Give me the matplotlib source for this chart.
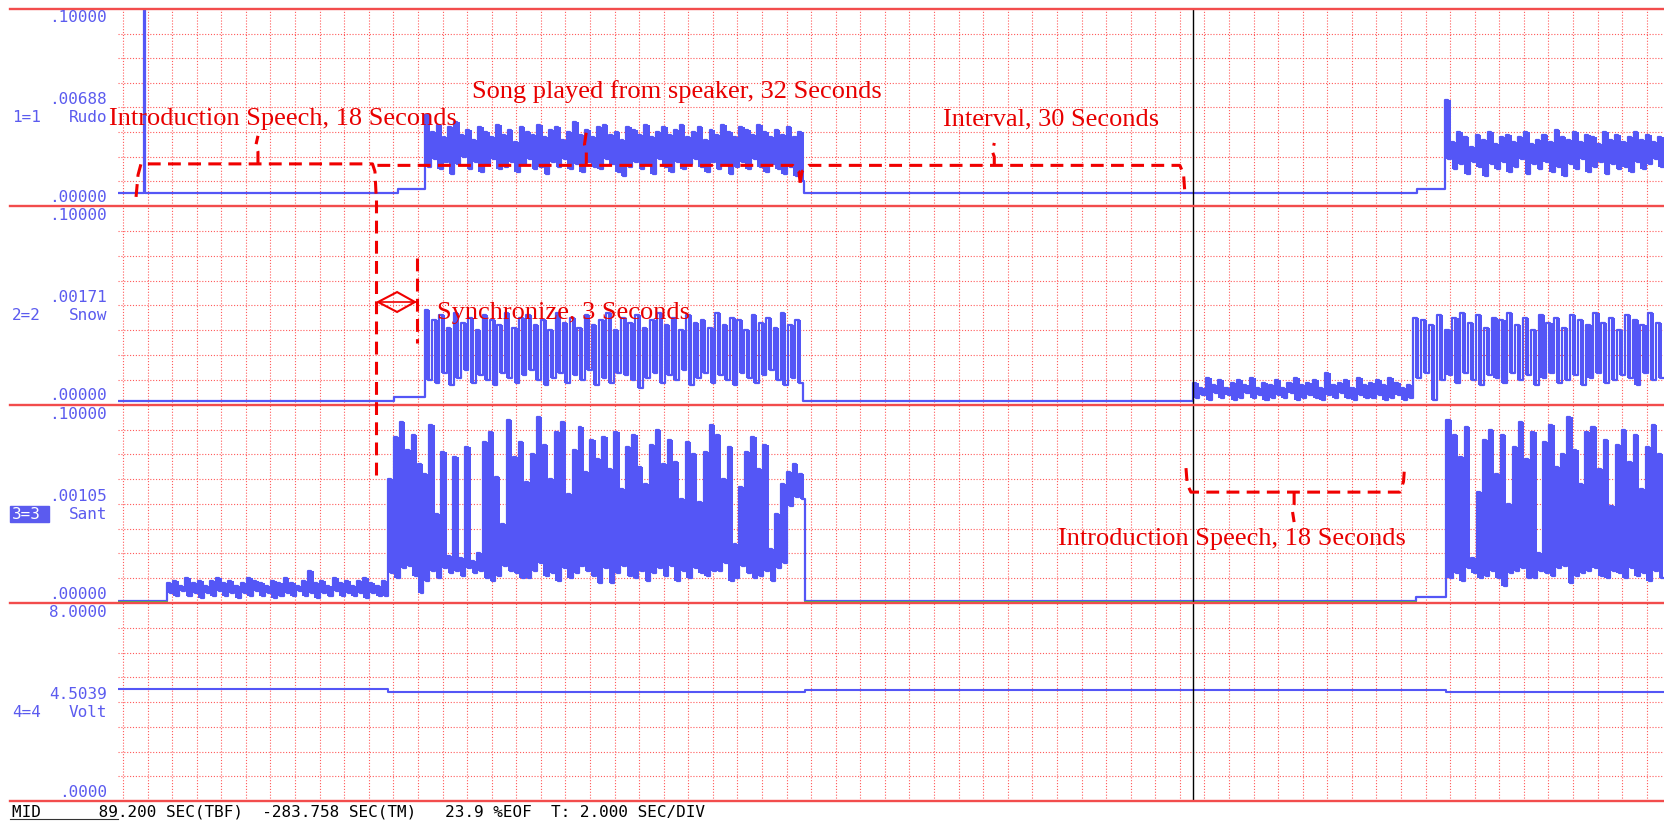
import numpy as np
import matplotlib.pyplot as plt
from matplotlib.lines import Line2D
from matplotlib.patches import Rectangle, Polygon
from matplotlib import transforms

W, H = 1664, 821

# time axis in seconds (2 s per division), channel values in divisions (ch4 in volts)
t_left, t_right = -0.41, 125.4
cursor_t = 87.07

# channel 1 - Rudo
ch1_base, ch1_step = 0.53, 0.70
ch1_spike_t, ch1_spike_y = 1.71, 8.0
ch1_edges = [22.36, 24.55, 55.45, 105.3, 107.6]
ch1_song_hi = [3.7, 3.0, 3.3, 2.8, 3.2, 3.4, 2.9, 3.1, 2.7, 3.2,
               3.0, 2.8, 3.3, 2.9, 3.1, 2.6, 3.2, 3.0, 2.9, 3.3,
               2.8, 3.1, 3.2, 2.7, 3.0, 3.4, 2.9, 3.1, 2.8, 3.2,
               3.3, 2.9, 3.0, 2.7, 3.2, 3.1, 2.9, 3.3, 2.8, 3.0,
               3.2, 2.9, 3.1, 3.3, 2.8, 3.0, 3.2, 2.7, 3.1, 2.9,
               3.3, 3.0, 2.8, 3.2, 3.1, 2.9, 3.3, 3.0, 2.8, 3.1,
               2.9, 3.2, 2.8, 3.0]
ch1_song_lo = [1.6, 1.9, 1.5, 1.8, 1.3, 1.7, 2.0, 1.5, 1.8, 1.4,
               1.7, 1.9, 1.5, 1.6, 1.8, 1.4, 1.7, 1.9, 1.5, 1.6,
               1.3, 1.8, 1.6, 1.9, 1.5, 1.7, 1.4, 1.8, 1.6, 1.5,
               1.9, 1.7, 1.4, 1.2, 1.6, 1.8, 1.5, 1.7, 1.3, 1.9,
               1.6, 1.4, 1.8, 1.5, 1.7, 1.9, 1.6, 1.4, 1.8, 1.5,
               1.7, 1.3, 1.6, 1.8, 1.5, 1.9, 1.6, 1.4, 1.7, 1.5,
               1.3, 1.6, 1.2, 1.0]
ch1_song2_hi = [4.3, 2.6, 3.0, 2.8, 2.4, 2.9, 2.7, 3.0, 2.5, 2.8,
                2.9, 2.6, 2.8, 3.0, 2.5, 2.7, 2.9, 2.6, 3.1, 2.8,
                2.7, 3.0, 2.6, 2.9, 2.8, 2.5, 3.0, 2.7, 2.9, 2.6,
                2.8, 3.0, 2.7, 2.9, 2.6, 2.8]
ch1_song2_lo = [1.9, 1.5, 1.7, 1.3, 1.8, 1.6, 1.2, 1.7, 1.5, 1.8,
                1.4, 1.6, 1.9, 1.3, 1.7, 1.5, 1.8, 1.4, 1.6, 1.2,
                1.7, 1.5, 1.9, 1.4, 1.6, 1.8, 1.3, 1.7, 1.5, 1.6,
                1.4, 1.8, 1.5, 1.7, 1.9, 1.6]

# channel 2 - Snow
ch2_base, ch2_step = 0.16, 0.32
ch2_edges = [22.03, 24.55, 55.3, 87.07, 105.0]
ch2_song_hi = [3.8, 3.4, 3.6, 3.1, 3.7, 3.3, 3.5, 3.0, 3.6, 3.4,
               3.2, 3.7, 3.1, 3.5, 3.6, 3.2, 3.4, 3.0, 3.7, 3.3,
               3.5, 3.1, 3.6, 3.2, 3.4, 3.7, 3.0, 3.5, 3.3, 3.6,
               3.1, 3.4, 3.7, 3.2, 3.5, 3.0, 3.6, 3.3, 3.4, 3.1,
               3.7, 3.2, 3.5, 3.4, 3.0, 3.6, 3.3, 3.5, 3.1, 3.7,
               3.2, 3.4]
ch2_song_lo = [1.0, 0.9, 1.3, 0.8, 1.1, 1.4, 0.9, 1.2, 1.0, 0.8,
               1.3, 1.1, 0.9, 1.2, 1.4, 1.0, 0.8, 1.1, 1.3, 0.9,
               1.2, 1.0, 1.4, 0.8, 1.1, 0.9, 1.3, 1.2, 1.0, 0.7,
               1.1, 1.3, 0.9, 1.2, 1.0, 1.4, 0.8, 1.1, 1.3, 0.9,
               1.2, 1.0, 0.8, 1.3, 1.1, 0.9, 1.2, 1.4, 1.0, 0.8,
               1.1, 0.9]
ch2_small_hi = [0.9, 0.7, 1.1, 0.8, 1.0, 0.7, 0.9, 1.0, 0.8, 1.1,
                0.7, 0.9, 0.8, 1.0, 0.7, 0.9, 1.1, 0.8, 0.9, 1.0,
                0.7, 1.3, 0.8, 0.9, 1.0, 0.7, 1.1, 0.8, 0.9, 1.0,
                0.8, 1.1, 0.9, 0.7, 0.8]
ch2_small_lo = [0.3, 0.4, 0.2, 0.5, 0.3, 0.4, 0.2, 0.3, 0.5, 0.3,
                0.4, 0.2, 0.3, 0.4, 0.3, 0.5, 0.2, 0.3, 0.4, 0.3,
                0.2, 0.4, 0.3, 0.5, 0.3, 0.2, 0.4, 0.3, 0.3, 0.4,
                0.2, 0.3, 0.4, 0.2, 0.3]
ch2_song2_hi = [3.5, 3.4, 3.2, 3.6, 3.0, 3.5, 3.7, 3.3, 3.6, 3.1,
                3.5, 3.4, 3.7, 3.2, 3.5, 3.0, 3.6, 3.3, 3.5, 3.1,
                3.6, 3.4, 3.2, 3.7, 3.3, 3.5, 3.0, 3.6, 3.4, 3.2,
                3.7, 3.3]
ch2_song2_lo = [1.1, 1.3, 0.2, 1.0, 1.2, 0.9, 1.3, 1.0, 0.8, 1.2,
                1.1, 0.9, 1.3, 1.0, 1.2, 0.8, 1.1, 1.3, 0.9, 1.0,
                1.2, 0.8, 1.1, 1.3, 0.9, 1.0, 1.2, 1.1, 0.8, 1.3,
                1.0, 1.1]

# channel 3 - Sant
ch3_base, ch3_step = 0.1, 0.25
ch3_edges = [3.58, 21.54, 55.5, 105.2, 107.7]
ch3_pre_hi = [0.8, 0.9, 0.7, 1.0, 0.8, 0.9, 0.7, 0.9, 1.0, 0.8,
              0.9, 0.7, 0.8, 1.0, 0.9, 0.8, 0.7, 0.9, 0.8, 1.0,
              0.8, 0.7, 0.9, 1.3, 0.8, 0.9, 0.7, 1.0, 0.8, 0.9,
              0.7, 0.9, 1.0, 0.8, 0.7, 0.9]
ch3_pre_lo = [0.4, 0.3, 0.5, 0.3, 0.4, 0.2, 0.4, 0.3, 0.5, 0.3,
              0.4, 0.2, 0.4, 0.3, 0.5, 0.3, 0.4, 0.2, 0.3, 0.4,
              0.3, 0.5, 0.3, 0.4, 0.2, 0.4, 0.3, 0.5, 0.3, 0.4,
              0.3, 0.4, 0.2, 0.4, 0.3, 0.3]
ch3_song_hi = [5.0, 6.7, 7.3, 6.2, 6.8, 5.6, 5.2, 7.2, 3.6, 6.1,
               1.9, 5.9, 1.8, 6.3, 1.7, 2.0, 6.5, 6.9, 5.1, 3.2,
               7.4, 5.9, 6.5, 4.9, 6.0, 7.5, 6.4, 5.0, 6.9, 7.3,
               4.4, 6.2, 7.1, 5.3, 6.6, 5.8, 6.7, 5.4, 6.9, 4.6,
               6.3, 6.8, 5.5, 4.8, 6.4, 7.0, 5.6, 6.6, 5.7, 4.2,
               6.5, 6.0, 4.1, 6.1, 7.2, 6.8, 5.0, 6.3, 2.4, 4.7,
               6.1, 6.7, 5.4, 6.4, 2.2, 3.6, 4.8, 5.3, 5.6, 5.2]
ch3_song_lo = [1.2, 1.0, 1.4, 1.5, 1.1, 0.4, 0.9, 1.3, 1.0, 1.4,
               1.2, 1.3, 1.1, 1.4, 1.2, 1.3, 1.0, 0.9, 1.1, 1.5,
               1.3, 1.2, 1.0, 1.0, 1.3, 1.6, 1.1, 1.2, 0.9, 1.4,
               1.0, 1.2, 1.5, 1.3, 1.1, 0.8, 1.4, 0.8, 1.2, 1.5,
               1.1, 1.0, 1.3, 0.9, 1.2, 1.4, 1.1, 1.5, 0.9, 1.3,
               1.0, 1.4, 1.2, 1.1, 1.3, 1.3, 1.6, 0.9, 1.0, 1.5,
               1.2, 1.0, 1.1, 1.3, 0.9, 1.4, 1.6, 3.9, 4.3, 4.2]
ch3_song2_hi = [7.4, 6.8, 5.9, 7.1, 1.8, 4.5, 6.6, 7.0, 5.2, 6.8,
                4.0, 6.3, 7.3, 5.8, 6.9, 2.0, 6.5, 7.2, 5.5, 6.0,
                7.5, 6.2, 4.8, 6.9, 7.1, 5.4, 6.6, 3.9, 6.4, 7.0,
                5.7, 6.8, 4.6, 6.3, 7.2, 6.0]
ch3_song2_lo = [1.0, 1.2, 0.9, 1.4, 1.2, 1.0, 1.1, 1.3, 1.0, 0.7,
                1.2, 1.3, 1.4, 1.0, 1.0, 1.3, 1.2, 1.1, 1.4, 1.5,
                0.8, 1.1, 1.2, 1.3, 1.4, 1.1, 1.0, 1.3, 1.2, 1.0,
                1.4, 1.1, 1.2, 0.9, 1.3, 1.0]

# channel 4 - Volt (supply voltage)
ch4_edges = [t_left, 21.54, 55.5, 107.7]
ch4_levels = [4.52, 4.42, 4.50, 4.41]

ch_index = ["1=1", "2=2", "3=3", "4=4"]
ch_names = ["Rudo", "Snow", "Sant", "Volt"]
ch_top = [".10000", ".10000", ".10000", "8.0000"]
ch_mid = [".00688", ".00171", ".00105", "4.5039"]
ch_bot = [".00000", ".00000", ".00000", ".0000"]

status = "MID      89.200 SEC(TBF)  -283.758 SEC(TM)   23.9 %EOF  T: 2.000 SEC/DIV"

blue = "#5456f6"
lblue = "#5b5bef"
red = "#f00000"
grid_red = "#ff5a5a"


def zigzag(t0, t1, hi, lo):
    n = len(hi)
    t = np.linspace(t0, t1, 2 * n, endpoint=False)
    y = np.column_stack([hi, lo]).ravel()
    return list(t), list(y)


def build(pieces):
    ts, ys = [], []
    for p in pieces:
        if p[0] == "flat":
            ts.append(p[1])
            ys.append(p[2])
        else:
            t, y = zigzag(*p[1:5])
            ts += t
            ys += y
    ts.append(t_right)
    ys.append(ys[-1])
    return ts, ys


def envelope(ax, pieces):
    # min/max bar per sample window, the way the recorder fills dense traces
    for p in pieces:
        if p[0] != "zig":
            continue
        _, t0, t1, hi, lo, w = p
        dt = (t1 - t0) / len(hi)
        tc = np.linspace(t0, t1, len(hi), endpoint=False) + dt / 2
        ax.bar(tc, np.subtract(hi, lo), bottom=lo, width=w * dt, color=blue,
               linewidth=0, zorder=3)


ch1_p = [("flat", t_left, ch1_base), ("flat", ch1_spike_t, ch1_spike_y),
         ("flat", ch1_spike_t + 0.06, ch1_base), ("flat", ch1_edges[0], ch1_step),
         ("zig", ch1_edges[1], ch1_edges[2], ch1_song_hi, ch1_song_lo, 0.9),
         ("flat", ch1_edges[2], ch1_base), ("flat", ch1_edges[3], ch1_step),
         ("zig", ch1_edges[4], t_right, ch1_song2_hi, ch1_song2_lo, 0.9)]
ch2_p = [("flat", t_left, ch2_base), ("flat", ch2_edges[0], ch2_step),
         ("zig", ch2_edges[1], ch2_edges[2], ch2_song_hi, ch2_song_lo, 0.55),
         ("flat", ch2_edges[2], ch2_base),
         ("zig", ch2_edges[3], ch2_edges[4], ch2_small_hi, ch2_small_lo, 0.95),
         ("zig", ch2_edges[4], t_right, ch2_song2_hi, ch2_song2_lo, 0.55)]
ch3_p = [("flat", t_left, ch3_base),
         ("zig", ch3_edges[0], ch3_edges[1], ch3_pre_hi, ch3_pre_lo, 0.95),
         ("zig", ch3_edges[1], ch3_edges[2], ch3_song_hi, ch3_song_lo, 0.8),
         ("flat", ch3_edges[2], ch3_base), ("flat", ch3_edges[3], ch3_step),
         ("zig", ch3_edges[4], t_right, ch3_song2_hi, ch3_song2_lo, 0.8)]
ch4 = (ch4_edges + [t_right], ch4_levels + [ch4_levels[-1]])

fig = plt.figure(figsize=(W / 100, H / 100), dpi=100)
panel_px = [(9, 206), (206, 405), (405, 603), (603, 801)]
axs = []
for top, bot in panel_px:
    ax = fig.add_axes([118 / W, 1 - bot / H, (W - 118) / W, (bot - top) / H])
    ax.set_xlim(t_left, t_right)
    ax.set_ylim(0, 8)
    ax.set_xticks(np.arange(0, t_right, 2))
    ax.set_yticks(range(1, 8))
    ax.grid(True, color=grid_red, lw=0.8, linestyle=(0, (1, 1.6)))
    ax.set_axisbelow(True)
    ax.tick_params(length=0, labelbottom=False, labelleft=False)
    for s in ax.spines.values():
        s.set_visible(False)
    ax.patch.set_alpha(0)
    axs.append(ax)

for ax, pieces in zip(axs[:3], [ch1_p, ch2_p, ch3_p]):
    t, y = build(pieces)
    ax.plot(t, y, drawstyle="steps-post", color=blue, lw=1.6, zorder=3)
    envelope(ax, pieces)
axs[3].plot(ch4[0], ch4[1], drawstyle="steps-post", color=blue, lw=1.5, zorder=3)
# green reference trace showing under channel 3 baseline
axs[2].plot([t_left, ch3_edges[0]], [0.06, 0.06], color="#3cc83c", lw=1.2, zorder=4)
axs[2].plot([ch3_edges[2], ch3_edges[3]], [0.06, 0.06], color="#3cc83c", lw=1.2, zorder=4)

for ax in axs:
    ax.axvline(cursor_t, color="black", lw=1.0, zorder=5)

# solid red panel borders
for py in [9, 206, 405, 603, 801]:
    fig.add_artist(Line2D([10 / W, 1], [1 - py / H] * 2, color="#f24c4c", lw=1.7))

# channel labels on the left
mono = "DejaVu Sans Mono"
for i, (top, bot) in enumerate(panel_px):
    for txt, off in [(ch_top[i], 9), (ch_mid[i], 91), (ch_names[i], 109), (ch_bot[i], 189)]:
        fig.text(107 / W, 1 - (top + off) / H, txt, ha="right", va="center",
                 family=mono, fontsize=11.5, color=lblue)
    col = "white" if i == 2 else lblue
    fig.text(12 / W, 1 - (top + 109) / H, ch_index[i], ha="left", va="center",
             family=mono, fontsize=11.5, color=col, zorder=6)
fig.add_artist(Rectangle((10 / W, 1 - 522 / H), 39 / W, 16 / H, color=lblue, zorder=5))

fig.text(12 / W, 1 - 812 / H, status, ha="left", va="center", family=mono,
         fontsize=11.5, color="black")
fig.add_artist(Line2D([10 / W, 118 / W], [1 - 819 / H] * 2, color="#333333", lw=0.8))

# annotations
dash = dict(color=red, lw=2.2, linestyle=(0, (4.2, 2.4)), clip_on=False, zorder=6)
serif = dict(family="Liberation Serif", fontsize=19, color="#e80000", ha="center",
             va="center", zorder=7)
a1, a2, a3 = axs[0], axs[1], axs[2]
a1.plot([1.06, 1.22, 1.46, 20.3, 20.5, 20.6], [0.37, 1.26, 1.71, 1.71, 1.4, 0.37], **dash)
a1.plot([10.98, 10.98, 10.8, 10.98], [1.71, 2.2, 2.45, 2.85], **dash)
a1.plot([20.7, 54.5, 55.0, 55.1], [1.65, 1.65, 1.4, 0.95], **dash)
a1.plot([37.7, 37.7, 37.55, 37.7], [1.65, 2.2, 2.5, 3.0], **dash)
a1.plot([55.1, 55.25, 55.8, 86.0, 86.3, 86.4], [0.95, 1.4, 1.65, 1.65, 1.3, 0.6], **dash)
a1.plot([70.9, 70.9, 70.75, 70.9], [1.65, 2.0, 2.2, 2.56], **dash)
a3.plot([86.5, 86.6, 86.9, 103.9, 104.2, 104.3], [5.45, 4.8, 4.48, 4.48, 4.9, 5.58], **dash)
a3.plot([95.3, 95.3, 95.15, 95.3], [4.48, 4.0, 3.75, 3.27], **dash)

sync = transforms.blended_transform_factory(a1.transData, fig.transFigure)
fig.add_artist(Line2D([20.6, 20.6], [1 - 200 / H, 1 - 478 / H], transform=sync,
                      color=red, lw=2.2, linestyle=(0, (4.2, 2.4)), zorder=6))
fig.add_artist(Line2D([23.93, 23.93], [1 - 258 / H, 1 - 343 / H], transform=sync,
                      color=red, lw=2.2, linestyle=(0, (4.2, 2.4)), zorder=6))
a2.add_patch(Polygon([[20.75, 4.14], [22.3, 4.54], [23.75, 4.14], [22.3, 3.74]],
                     closed=True, fill=False, edgecolor=red, lw=1.5, zorder=6))
a2.plot([20.75, 23.75], [4.14, 4.14], color=red, lw=1.2, zorder=6)

a1.text(13.05, 3.54, "Introduction Speech, 18 Seconds", **serif)
a1.text(45.06, 4.63, "Song played from speaker, 32 Seconds", **serif)
a1.text(75.5, 3.5, "Interval, 30 Seconds", **serif)
a2.text(35.86, 3.7, "Synchronize, 3 Seconds", **serif)
a3.text(90.2, 2.59, "Introduction Speech, 18 Seconds", **serif)

fig.savefig("out.png", dpi=100, facecolor="white")
